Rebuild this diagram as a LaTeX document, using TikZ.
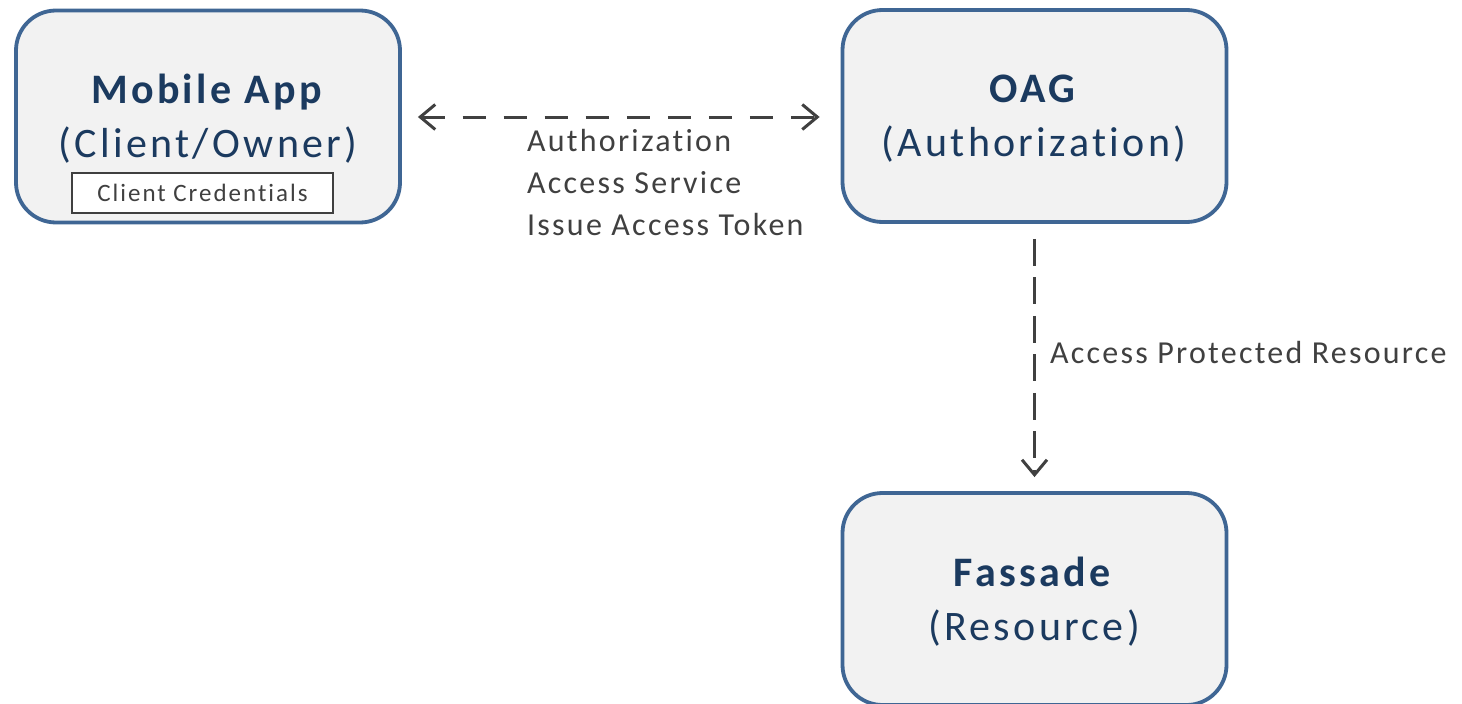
\documentclass[tikz,border=0pt]{standalone}
\usepackage{fontspec}
\setmainfont{Carlito}[Ligatures=CommonOff]
\usetikzlibrary{arrows.meta}
\definecolor{boxline}{HTML}{3F6694}
\definecolor{boxfill}{HTML}{F2F2F2}
\definecolor{titleblue}{HTML}{1B3A5F}
\definecolor{linkgray}{HTML}{404040}
\begin{document}
\begin{tikzpicture}[x=1pt,y=-1pt,
  block/.style={draw=boxline, line width=3.8pt, fill=boxfill,
    rounded corners=40pt, minimum width=384pt, minimum height=212pt,
    inner sep=0pt},
  title/.style={text=titleblue, align=center,
    font=\fontsize{42}{54}\selectfont\addfontfeature{LetterSpace=8}},
  credbox/.style={draw=linkgray, line width=1.5pt, fill=white,
    minimum width=261pt, minimum height=40pt, inner sep=0pt,
    text=linkgray, font=\fontsize{25}{28}\selectfont\addfontfeature{LetterSpace=8}},
  barb/.tip={Straight Barb[length=15pt,width=25pt]},
  link/.style={draw=linkgray, line width=3pt, -barb},
  linklabel/.style={text=linkgray, align=left, inner sep=0pt,
    font=\fontsize{32}{42}\selectfont\addfontfeature{LetterSpace=7}}]
\clip (0,0) rectangle (1462,704);
\useasboundingbox (0,0) rectangle (1462,704);
\fill[white] (0,0) rectangle (1462,704);

% boxes
\node[block] (app) at (208,116.5) {};
\node[block] (oag) at (1034.5,116) {};
\node[block] (fas) at (1034.5,599) {};

% box titles
\node[title] (appt) at (208,119) {\textbf{Mobile App}\\(Client/Owner)};
\node[credbox] (cred) at (202.5,193) {Client Credentials};
\node[title] (oagt) at (1034,119) {\textbf{OAG}\\(Authorization)};
\node[title] (fast) at (1034,602) {\textbf{Fassade}\\(Resource)};

% connectors
\coordinate (appR) at ([yshift=-0.5pt]app.east);
\coordinate (oagL) at ([yshift=-1pt]oag.west);
\draw[link, barb-barb, dash pattern=on 23pt off 18pt,
  shorten <=16pt, shorten >=21pt] (appR) -- (oagL);
\draw[link, dash pattern=on 27pt off 11.5pt,
  shorten <=15pt, shorten >=14pt] (oag.south) -- (fas.north);

% connector labels
\node[linklabel, anchor=west] (l1) at (527,183)
  {Authorization\\Access Service\\Issue Access Token};
\node[linklabel, anchor=west] (l2) at (1050,353) {Access Protected Resource};
\end{tikzpicture}
\end{document}
